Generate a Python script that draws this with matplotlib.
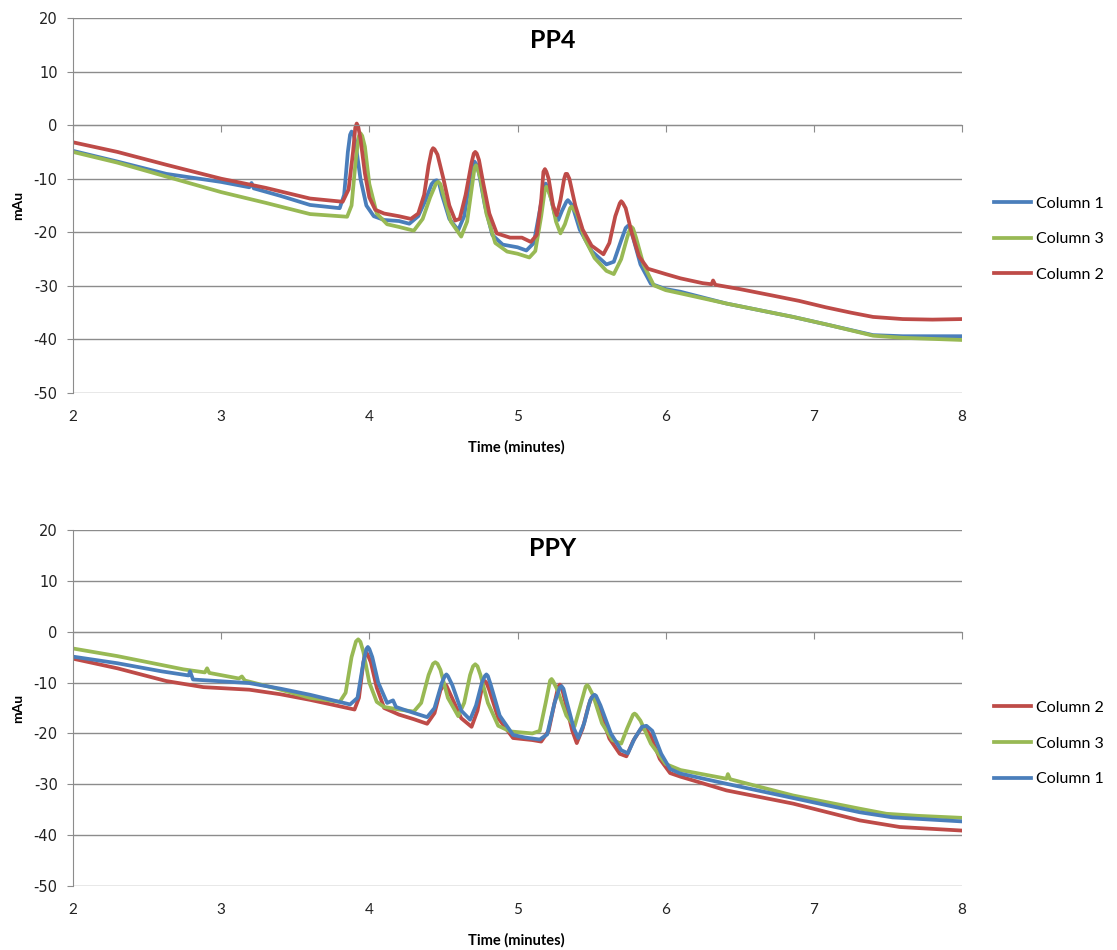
import matplotlib.pyplot as plt

plt.rcParams["axes.unicode_minus"] = False

# PP4 traces (time in minutes, absorbance in mAu)
pp4_t_col1 = [2.0, 2.3, 2.63, 3.0, 3.19, 3.205, 3.22, 3.4, 3.6, 3.80, 3.83, 3.855, 3.87, 3.88, 3.892, 3.905, 3.94,
              3.98, 4.03, 4.1, 4.2, 4.27, 4.33, 4.38, 4.42, 4.44, 4.455, 4.47, 4.49, 4.54, 4.60, 4.64, 4.68, 4.70, 4.71,
              4.72, 4.74, 4.78, 4.83, 4.9, 5.0, 5.06, 5.11, 5.15, 5.18, 5.19, 5.20, 5.22, 5.25, 5.275, 5.30, 5.33, 5.34, 5.35, 5.37,
              5.42, 5.5, 5.6, 5.65, 5.70, 5.73, 5.745, 5.76, 5.78, 5.83, 5.9, 6.0, 6.1, 6.41, 6.86, 7.1, 7.4, 7.6, 8.0]
pp4_col1 = [-4.8, -6.8, -9.1, -10.6, -11.6, -10.8, -11.8, -13.2, -14.9, -15.5, -13.0, -5.0, -1.8, -1.2, -1.6, -3.0, -10.0,
            -15.0, -17.0, -17.7, -17.9, -18.4, -17.0, -14.0, -11.0, -10.4, -10.3, -10.8, -13.0, -17.5, -19.6, -17.0, -10.0, -7.3, -6.8,
            -7.2, -9.0, -15.0, -20.5, -22.3, -22.8, -23.4, -22.0, -16.0, -11.4, -10.9, -11.4, -13.0, -16.5, -17.7, -16.0, -14.3, -14.0, -14.3, -15.0,
            -19.5, -23.5, -26.0, -25.5, -21.5, -19.2, -18.8, -19.3, -21.0, -26.0, -29.6, -30.6, -31.1, -33.3, -35.8, -37.3, -39.2, -39.4, -39.4]

pp4_t_col3 = [2.0, 2.3, 2.63, 3.0, 3.3, 3.6, 3.85, 3.88, 3.91, 3.93, 3.94, 3.952, 3.97, 4.0, 4.05, 4.12, 4.2,
              4.30, 4.36, 4.41, 4.45, 4.465, 4.48, 4.5, 4.55, 4.62, 4.66, 4.69, 4.71, 4.72, 4.73, 4.75, 4.79, 4.85, 4.93, 5.0,
              5.08, 5.12, 5.16, 5.185, 5.195, 5.205, 5.23, 5.26, 5.29, 5.32, 5.355, 5.365, 5.375, 5.40, 5.45, 5.52, 5.6, 5.65, 5.70,
              5.74, 5.76, 5.77, 5.78, 5.80, 5.85, 5.92, 6.0, 6.1, 6.41, 6.86, 7.1, 7.4, 7.6, 8.0]
pp4_col3 = [-5.0, -7.0, -9.6, -12.5, -14.5, -16.6, -17.1, -15.0, -6.0, -2.0, -1.5, -2.0, -4.0, -11.0, -16.5, -18.5, -19.0,
            -19.7, -17.5, -13.5, -10.9, -10.6, -11.0, -13.0, -18.0, -20.8, -18.0, -12.0, -8.0, -7.5, -8.0, -10.0, -16.5, -22.0, -23.6, -24.0,
            -24.7, -23.5, -17.0, -12.0, -11.5, -12.0, -14.0, -18.0, -20.2, -18.5, -15.5, -15.2, -15.5, -16.5, -21.0, -24.8, -27.2, -27.8, -25.0,
            -21.0, -19.3, -19.0, -19.3, -21.0, -26.0, -29.9, -30.8, -31.4, -33.3, -35.8, -37.3, -39.3, -39.7, -40.1]

pp4_t_col2 = [2.0, 2.3, 2.63, 3.0, 3.3, 3.6, 3.82, 3.86, 3.89, 3.905, 3.915, 3.925, 3.94, 3.97, 4.00, 4.04, 4.1,
              4.2, 4.28, 4.33, 4.37, 4.40, 4.42, 4.43, 4.44, 4.46, 4.50, 4.54, 4.58, 4.61, 4.65, 4.69, 4.705, 4.715, 4.725, 4.74,
              4.77, 4.81, 4.86, 4.95, 5.03, 5.09, 5.13, 5.16, 5.175, 5.185, 5.195, 5.21, 5.24, 5.265, 5.29, 5.315, 5.325, 5.335,
              5.35, 5.39, 5.44, 5.5, 5.58, 5.62, 5.66, 5.69, 5.70, 5.71, 5.73, 5.77, 5.82, 5.88, 6.0, 6.1, 6.25,
              6.31, 6.32, 6.335, 6.5, 6.72, 6.9, 7.08, 7.25, 7.4, 7.6, 7.8, 8.0]
pp4_col2 = [-3.2, -5.0, -7.4, -10.0, -11.7, -13.7, -14.3, -12.0, -5.0, -0.5, 0.3, -0.3, -2.5, -9.0, -13.5, -15.8, -16.5,
            -17.0, -17.5, -16.5, -13.0, -7.5, -4.8, -4.3, -4.5, -5.5, -10.0, -15.0, -17.8, -17.5, -13.0, -7.0, -5.3, -5.0, -5.3, -6.5,
            -11.0, -16.5, -20.2, -21.0, -21.0, -21.8, -20.5, -14.0, -8.7, -8.2, -8.7, -10.0, -15.0, -16.8, -14.0, -10.0, -9.1, -9.1,
            -10.0, -15.0, -19.5, -22.5, -24.1, -22.0, -17.0, -14.6, -14.2, -14.5, -15.5, -20.0, -24.5, -26.8, -27.8, -28.6, -29.5,
            -29.7, -29.0, -29.8, -30.6, -31.8, -32.8, -34.0, -35.0, -35.8, -36.2, -36.3, -36.2]

# PPY traces
ppy_t_col2 = [2.0, 2.3, 2.63, 2.88, 3.19, 3.4, 3.6, 3.90, 3.93, 3.96, 3.97, 3.98, 3.99, 4.01, 4.05, 4.1, 4.2,
              4.3, 4.39, 4.44, 4.48, 4.50, 4.51, 4.52, 4.55, 4.62, 4.69, 4.73, 4.76, 4.77, 4.78, 4.79, 4.81, 4.87, 4.97, 5.1,
              5.16, 5.21, 5.25, 5.275, 5.286, 5.297, 5.32, 5.37, 5.40, 5.44, 5.48, 5.50, 5.51, 5.52, 5.55, 5.62, 5.69, 5.735, 5.78,
              5.83, 5.86, 5.90, 5.96, 6.03, 6.1, 6.41, 6.86, 7.31, 7.58, 8.0]
ppy_col2 = [-5.3, -7.2, -9.7, -10.9, -11.4, -12.3, -13.4, -15.3, -13.0, -6.0, -4.5, -4.1, -4.6, -6.0, -11.0, -15.0, -16.3,
            -17.2, -18.1, -16.0, -11.5, -10.6, -10.4, -10.6, -12.5, -17.0, -18.7, -15.5, -11.0, -10.0, -9.7, -10.0, -11.5, -17.0, -20.9, -21.3,
            -21.6, -19.5, -14.0, -10.8, -10.4, -10.8, -13.5, -19.5, -21.9, -19.0, -14.5, -12.9, -12.7, -12.9, -15.0, -21.0, -24.0, -24.5, -21.5,
            -19.2, -18.9, -20.5, -25.0, -27.8, -28.5, -31.2, -33.8, -37.1, -38.4, -39.1]

ppy_t_col3 = [2.0, 2.3, 2.745, 2.89, 2.905, 2.92, 3.12, 3.14, 3.16, 3.35, 3.6, 3.80, 3.84, 3.88, 3.91, 3.925, 3.94,
              3.96, 4.0, 4.05, 4.1, 4.2, 4.3, 4.35, 4.40, 4.43, 4.445, 4.46, 4.48, 4.53, 4.60, 4.64, 4.68, 4.70, 4.715, 4.73,
              4.75, 4.80, 4.87, 4.95, 5.1, 5.15, 5.19, 5.22, 5.23, 5.24, 5.27, 5.33, 5.385, 5.42, 5.46, 5.47, 5.48, 5.51, 5.57,
              5.64, 5.70, 5.74, 5.78, 5.79, 5.80, 5.83, 5.9, 6.0, 6.1, 6.3, 6.41, 6.42, 6.435, 6.86, 7.31, 7.49, 7.7, 8.0]
ppy_col3 = [-3.3, -4.8, -7.4, -8.0, -7.2, -8.1, -9.2, -8.8, -9.6, -11.0, -13.0, -13.8, -12.0, -5.0, -1.9, -1.5, -2.0,
            -4.0, -10.0, -13.8, -14.8, -15.3, -15.7, -14.0, -8.5, -6.3, -6.0, -6.3, -7.5, -13.0, -16.6, -14.0, -8.5, -6.8, -6.4, -6.8,
            -8.5, -14.0, -18.5, -19.6, -20.0, -19.5, -14.0, -9.6, -9.3, -9.7, -11.5, -16.5, -18.6, -15.0, -10.8, -10.5, -10.8, -12.5, -18.0,
            -21.3, -22.0, -19.0, -16.3, -16.1, -16.3, -17.5, -22.0, -26.0, -27.2, -28.3, -28.9, -28.0, -29.0, -32.2, -34.8, -35.8, -36.2, -36.6]

ppy_t_col1 = [2.0, 2.3, 2.6, 2.78, 2.79, 2.81, 3.19, 3.4, 3.6, 3.87, 3.92, 3.96, 3.98, 3.99, 4.0, 4.02, 4.06,
              4.12, 4.16, 4.18, 4.25, 4.39, 4.44, 4.49, 4.51, 4.52, 4.53, 4.56, 4.62, 4.68, 4.72, 4.76, 4.78, 4.79, 4.80, 4.82,
              4.88, 4.97, 5.05, 5.15, 5.2, 5.25, 5.285, 5.297, 5.31, 5.33, 5.38, 5.41, 5.45, 5.49, 5.51, 5.52, 5.53, 5.56, 5.63,
              5.70, 5.745, 5.79, 5.84, 5.87, 5.91, 5.97, 6.03, 6.1, 6.41, 6.86, 7.31, 7.53, 8.0]
ppy_col1 = [-4.9, -6.2, -7.8, -8.6, -7.8, -9.4, -10.1, -11.2, -12.4, -14.3, -13.0, -6.0, -3.4, -3.0, -3.4, -5.0, -10.0,
            -14.0, -13.5, -14.8, -15.5, -16.8, -15.0, -10.0, -8.7, -8.4, -8.7, -10.5, -15.5, -17.3, -14.5, -10.0, -8.7, -8.4, -8.7, -10.5,
            -16.5, -20.3, -20.8, -21.2, -20.2, -14.0, -11.0, -10.7, -11.2, -13.5, -19.0, -20.9, -18.0, -13.5, -12.6, -12.4, -12.6, -14.5, -20.0,
            -23.3, -23.9, -21.0, -18.7, -18.5, -19.5, -24.0, -27.0, -27.9, -29.9, -32.7, -35.5, -36.5, -37.3]

x_ticks = [2, 3, 4, 5, 6, 7, 8]
y_ticks = [20, 10, 0, -10, -20, -30, -40, -50]

BLUE = "#4a7ebb"
GREEN = "#98b954"
RED = "#be4b48"
GRID = "#8c8c8c"
LW = 2.7

W, H = 1117, 950
fig = plt.figure(figsize=(W / 100, H / 100), dpi=100)


def setup_axes(ax):
    ax.set_xlim(2, 8)
    ax.set_ylim(-50, 20)
    ax.set_yticks(y_ticks)
    ax.grid(axis="y", color=GRID, linewidth=1.0)
    ax.set_axisbelow(True)
    for s in ("top", "right"):
        ax.spines[s].set_visible(False)
    ax.spines["left"].set_color(GRID)
    # category axis crosses at zero, labels sit at the bottom
    ax.spines["bottom"].set_position(("data", 0))
    ax.spines["bottom"].set_color(GRID)
    ax.set_xticks(x_ticks)
    ax.tick_params(axis="x", direction="out", length=5, color=GRID, labelbottom=False)
    ax.tick_params(axis="y", direction="out", length=4, color=GRID, pad=7,
                   labelsize=10.5, labelcolor="#222222")
    sec = ax.secondary_xaxis("bottom")
    sec.set_xticks(x_ticks)
    sec.spines["bottom"].set_visible(False)
    sec.tick_params(length=0, pad=12, labelsize=11, labelcolor="#222222")
    for lab in sec.get_xticklabels():
        lab.set_fontfamily("Lato")


def add_labels(ax_top_px, ax_bot_px, title, title_y_px):
    fig.text(553 / W, 1 - title_y_px / H, title, ha="center", va="center",
             fontsize=18, fontweight="bold", family="Lato")
    fig.text(18 / W, 1 - (ax_top_px + ax_bot_px) / 2 / H, "mAu", rotation=90,
             ha="center", va="center", fontsize=10, fontweight="bold", family="Lato")
    fig.text(516 / W, 1 - (ax_bot_px + 54) / H, "Time (minutes)", ha="center", va="center",
             fontsize=10.5, fontweight="bold", family="Lato")


ax1 = fig.add_axes([73 / W, 1 - 393 / H, 889 / W, 375 / H])
setup_axes(ax1)
ax1.plot(pp4_t_col1, pp4_col1, color=BLUE, lw=LW, label="Column 1", solid_joinstyle="round")
ax1.plot(pp4_t_col3, pp4_col3, color=GREEN, lw=LW, label="Column 3", solid_joinstyle="round")
ax1.plot(pp4_t_col2, pp4_col2, color=RED, lw=LW, label="Column 2", solid_joinstyle="round")
add_labels(18, 393, "PP4", 40)

ax2 = fig.add_axes([73 / W, 1 - 886 / H, 889 / W, 356 / H])
setup_axes(ax2)
ax2.plot(ppy_t_col2, ppy_col2, color=RED, lw=LW, label="Column 2", solid_joinstyle="round")
ax2.plot(ppy_t_col3, ppy_col3, color=GREEN, lw=LW, label="Column 3", solid_joinstyle="round")
ax2.plot(ppy_t_col1, ppy_col1, color=BLUE, lw=LW, label="Column 1", solid_joinstyle="round")
add_labels(530, 886, "PPY", 548)

for ax, yc in ((ax1, 0.41), (ax2, 0.40)):
    ax.legend(loc="center left", bbox_to_anchor=(1.02, yc), frameon=False,
              handlelength=2.3, handletextpad=0.3, labelspacing=1.35,
              prop={"family": "Lato", "size": 11.5})

fig.savefig("out.png", dpi=100)
